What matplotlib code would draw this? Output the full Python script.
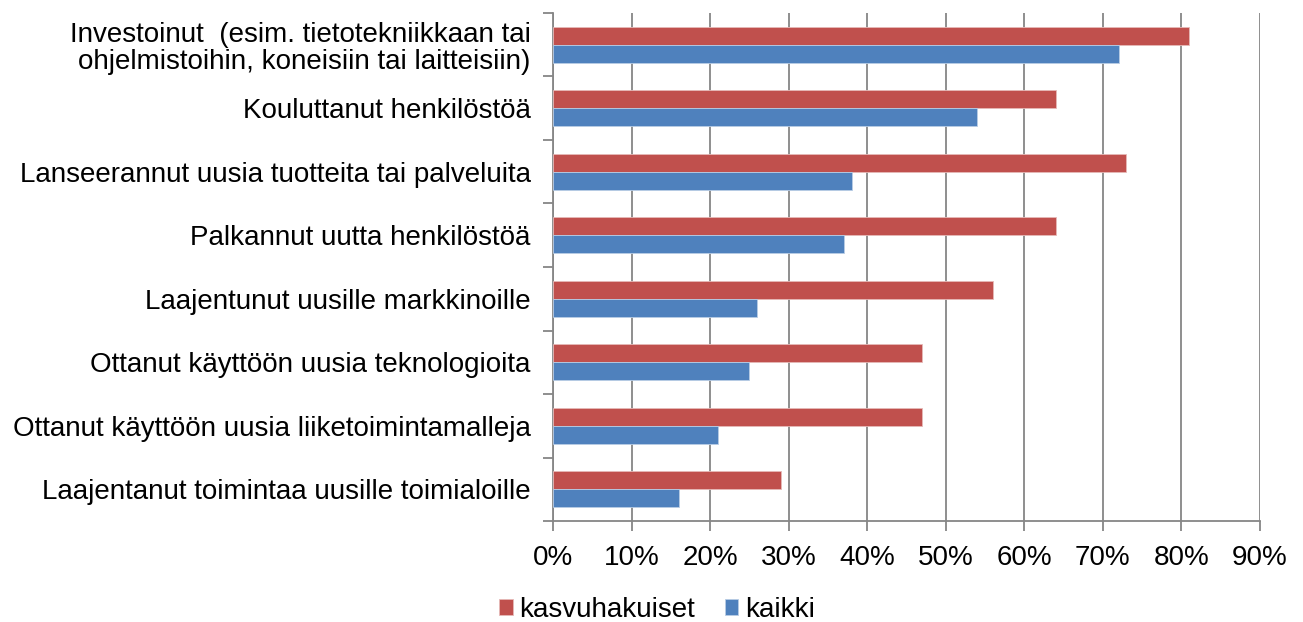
import matplotlib
matplotlib.use("Agg")
import matplotlib.pyplot as plt
import numpy as np
from matplotlib.ticker import FixedLocator, PercentFormatter

categories = [
    "Investoinut  (esim. tietotekniikkaan tai\nohjelmistoihin, koneisiin tai laitteisiin)",
    "Kouluttanut henkilöstöä",
    "Lanseerannut uusia tuotteita tai palveluita",
    "Palkannut uutta henkilöstöä",
    "Laajentunut uusille markkinoille",
    "Ottanut käyttöön uusia teknologioita",
    "Ottanut käyttöön uusia liiketoimintamalleja",
    "Laajentanut toimintaa uusille toimialoille",
]
kasvuhakuiset = [81, 64, 73, 64, 56, 47, 47, 29]
kaikki = [72, 54, 38, 37, 26, 25, 21, 16]
series_names = ["kasvuhakuiset", "kaikki"]
xticks = list(range(0, 91, 10))

plt.rcParams['font.family'] = ['Liberation Sans', 'DejaVu Sans']
FS = 20

fig = plt.figure(figsize=(13.03, 6.22), dpi=100)
ax = fig.add_axes([553/1303, 1 - 521/622, (1260-553)/1303, (521-13)/622])

n = len(categories)
y = np.arange(n)[::-1].astype(float)
h = 0.285
red = "#C0504D"
blue = "#4F81BD"
ax.barh(y + h/2, kasvuhakuiset, height=h, color=red, label=series_names[0], zorder=3,
        edgecolor="#E6B9B8", linewidth=0.6)
ax.barh(y - h/2, kaikki, height=h, color=blue, label=series_names[1], zorder=3,
        edgecolor="#B9CDE5", linewidth=0.6)

ax.set_xlim(0, 90)
ax.set_ylim(-0.5, n - 0.5)
ax.set_xticks(xticks)
ax.xaxis.set_major_formatter(PercentFormatter(decimals=0))
ax.set_yticks(y)
labels = ax.set_yticklabels(categories, fontsize=FS, ha="right", multialignment="right")
for t in labels:
    t.set_linespacing(1.07)
ax.tick_params(axis="y", length=0, pad=16)
ax.yaxis.set_minor_locator(FixedLocator(np.arange(-0.5, n, 1.0)))
ax.tick_params(axis="y", which="minor", length=7, color="#868686", width=1.3, direction="out")
ax.tick_params(axis="x", length=7, color="#868686", width=1.3, labelsize=FS, pad=10, direction="out")

ax.grid(axis="x", color="#868686", linewidth=1.3, zorder=0)
for s in ["top", "right"]:
    ax.spines[s].set_visible(False)
for s in ["left", "bottom"]:
    ax.spines[s].set_color("#868686")
    ax.spines[s].set_linewidth(1.3)

leg = fig.legend(loc="center", bbox_to_anchor=(657/1303, 1 - 610/622), ncol=2, frameon=False,
                 fontsize=FS, handlelength=0.5, handleheight=0.5, handletextpad=0.25,
                 columnspacing=1.05, borderpad=0.1)

fig.savefig("out.png", dpi=100)
